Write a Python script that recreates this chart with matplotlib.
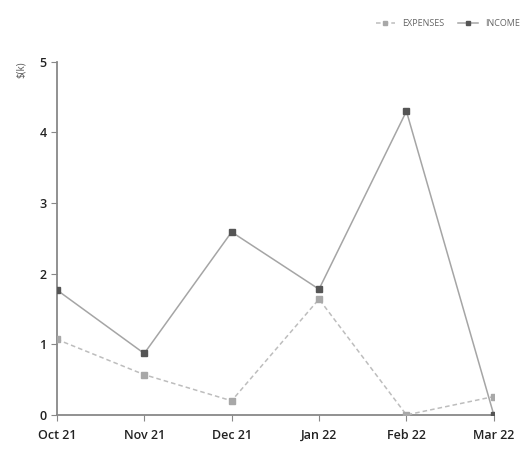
import numpy as np
import matplotlib.pyplot as plt

months = ['Oct 21', 'Nov 21', 'Dec 21', 'Jan 22', 'Feb 22', 'Mar 22']
income = [1.77, 0.87, 2.59, 1.78, 4.3, 0.0]
expenses = [1.07, 0.57, 0.2, 1.64, 0.0, 0.26]

plt.rcParams['font.family'] = ['Open Sans', 'DejaVu Sans']

fig = plt.figure(figsize=(5.31, 4.51), dpi=100)
ax = fig.add_axes([0.107, 0.08, 0.823, 0.783])
x = np.arange(len(months))

ax.plot(x, expenses, color='#bdbdbd', linestyle=(0, (3, 2)), linewidth=1.1,
        marker='s', markersize=5, markerfacecolor='#a8a8a8', markeredgecolor='#a8a8a8',
        label='EXPENSES', zorder=3)
ax.plot(x, income, color='#a5a5a5', linewidth=1.1,
        marker='s', markersize=5, markerfacecolor='#555555', markeredgecolor='#555555',
        label='INCOME', zorder=4)

ax.set_xlim(0, len(months) - 1)
ax.set_ylim(0, 5)
ax.set_xticks(x)
ax.set_xticklabels(months, fontsize=9, color='#222222', fontweight='semibold')
ax.set_yticks(range(6))
ax.set_yticklabels([str(v) for v in range(6)], fontsize=9, color='#222222', fontweight='semibold')
ax.tick_params(axis='y', length=4, color='#888888')
ax.tick_params(axis='x', length=4, color='#888888', pad=6)

for s in ['top', 'right']:
    ax.spines[s].set_visible(False)
ax.spines['left'].set_color('#888888')
ax.spines['bottom'].set_color('#888888')
ax.spines['left'].set_linewidth(1.3)
ax.spines['bottom'].set_linewidth(1.3)

fig.text(0.04, 0.845, '$(k)', rotation=90, fontsize=7, color='#555555', ha='center', va='center')

fig.legend(loc='upper right', bbox_to_anchor=(0.995, 0.975), ncol=2, frameon=False,
           fontsize=6.5, labelcolor='#666666', handlelength=2.2, columnspacing=1.5,
           markerscale=0.7)

plt.savefig('out.png', dpi=100)
